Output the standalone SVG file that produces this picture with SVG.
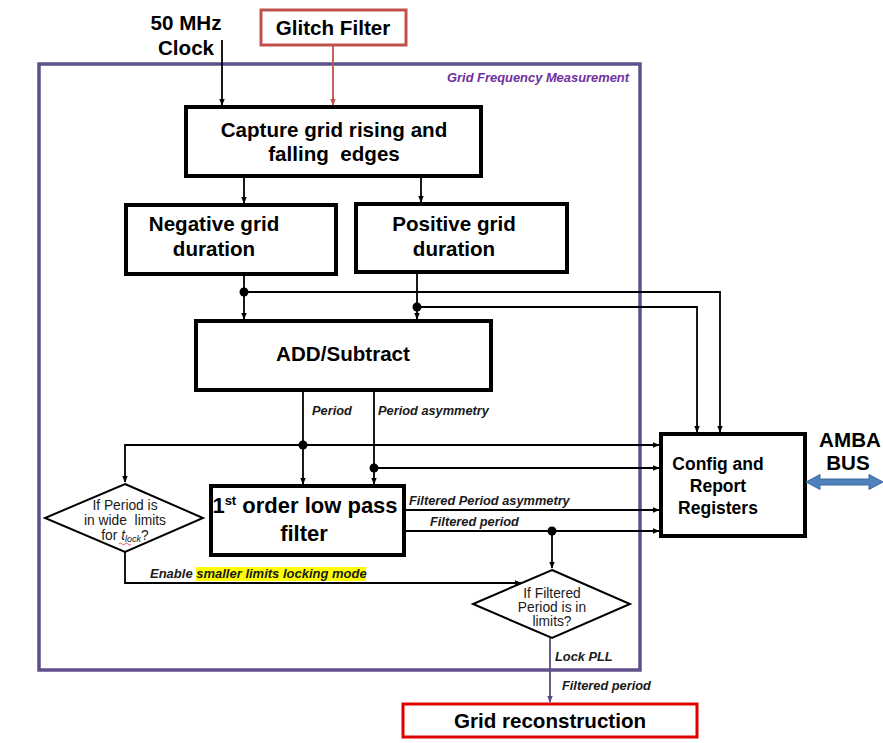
<svg xmlns="http://www.w3.org/2000/svg" width="883" height="743" viewBox="0 0 883 743">
  <style>
    .box { fill: #ffffff; stroke: #000000; stroke-width: 4; }
    .dia { fill: #ffffff; stroke: #000000; stroke-width: 2; }
    .wire { fill: none; stroke: #000000; stroke-width: 1.8; }
    .t-big { font-family: "Liberation Sans", Arial, sans-serif; font-weight: bold; font-size: 20.6px; fill: #000000; text-anchor: middle; }
    .t-mid { font-family: "Liberation Sans", Arial, sans-serif; font-weight: bold; font-size: 17.5px; fill: #000000; text-anchor: middle; }
    .t-dia { font-family: "Liberation Sans", Arial, sans-serif; font-size: 13.8px; fill: #1a1a1a; text-anchor: middle; }
    .t-lbl { font-family: "Liberation Sans", Arial, sans-serif; font-weight: bold; font-style: italic; font-size: 12.8px; fill: #1a1a1a; }
  </style>
  <defs>
    <marker id="arr" viewBox="0 0 10 10" refX="9" refY="5" markerWidth="4" markerHeight="4" orient="auto" markerUnits="strokeWidth">
      <path d="M0,1 L10,5 L0,9 Z" fill="#000000"/>
    </marker>
    <marker id="arr-red" viewBox="0 0 10 10" refX="9" refY="5" markerWidth="4" markerHeight="4" orient="auto" markerUnits="strokeWidth">
      <path d="M0,1 L10,5 L0,9 Z" fill="#c0504d"/>
    </marker>
    <marker id="arr-pur" viewBox="0 0 10 10" refX="9" refY="5" markerWidth="4" markerHeight="4" orient="auto" markerUnits="strokeWidth">
      <path d="M0,1 L10,5 L0,9 Z" fill="#5b4a86"/>
    </marker>
  </defs>

  <rect width="883" height="743" fill="#ffffff"/>

  <!-- Measurement block boundary -->
  <g id="grid-frequency-measurement">
    <rect x="39" y="64" width="601" height="606" fill="none" stroke="#5f4f8a" stroke-width="3.5"/>
    <text x="629" y="82" text-anchor="end" font-family="Liberation Sans, Arial, sans-serif" font-weight="bold" font-style="italic" font-size="12.9" fill="#7030a0">Grid Frequency Measurement</text>
  </g>

  <!-- External inputs -->
  <g id="clock-label">
    <text class="t-big" x="186" y="30">50 MHz</text>
    <text class="t-big" x="186" y="55">Clock</text>
  </g>
  <g id="glitch-filter">
    <rect x="261" y="10" width="145" height="35" fill="#ffffff" stroke="#c0504d" stroke-width="3"/>
    <text class="t-big" x="333" y="35">Glitch Filter</text>
  </g>

  <!-- Processing blocks -->
  <g id="capture-edges">
    <rect class="box" x="186" y="107" width="295" height="69"/>
    <text class="t-big" x="334" y="137">Capture grid rising and</text>
    <text class="t-big" x="334" y="161" style="white-space:pre">falling  edges</text>
  </g>
  <g id="negative-duration">
    <rect class="box" x="126" y="205" width="210" height="69"/>
    <text class="t-big" x="214" y="231">Negative grid</text>
    <text class="t-big" x="214" y="256">duration</text>
  </g>
  <g id="positive-duration">
    <rect class="box" x="356" y="204" width="211" height="68"/>
    <text class="t-big" x="454" y="231">Positive grid</text>
    <text class="t-big" x="454" y="256">duration</text>
  </g>
  <g id="add-subtract">
    <rect class="box" x="196" y="321" width="295" height="69"/>
    <text class="t-big" x="343" y="361">ADD/Subtract</text>
  </g>
  <g id="low-pass-filter">
    <rect class="box" x="211" y="486" width="193" height="69"/>
    <text class="t-big" x="305" y="513" style="font-size:22px">1<tspan font-size="13" dy="-8">st</tspan><tspan dy="8"> order low pass</tspan></text>
    <text class="t-big" x="304" y="541" style="font-size:22px">filter</text>
  </g>
  <g id="config-registers">
    <rect class="box" x="661" y="434" width="144" height="102"/>
    <text class="t-mid" x="718" y="470">Config and</text>
    <text class="t-mid" x="718" y="492">Report</text>
    <text class="t-mid" x="718" y="514">Registers</text>
  </g>
  <g id="amba-bus">
    <text class="t-big" x="850" y="447">AMBA</text>
    <text class="t-big" x="848" y="470">BUS</text>
    <path d="M806,482 L820,474.5 L820,479 L869,479 L869,474.5 L883,482 L869,489.5 L869,485 L820,485 L820,489.5 Z" fill="#4f81bd" stroke="#3a6aa0" stroke-width="1"/>
  </g>

  <!-- Decisions -->
  <g id="wide-limits-check">
    <polygon class="dia" points="125,484 203,518 125,552 45,518"/>
    <text class="t-dia" x="125" y="510">If Period is</text>
    <text class="t-dia" x="125" y="525" style="white-space:pre">in wide  limits</text>
    <text class="t-dia" x="125" y="540">for <tspan font-style="italic">t</tspan><tspan font-style="italic" font-size="9" dy="2">lock</tspan><tspan dy="-2">?</tspan></text>
    <path d="M119,544 q1.5,-2 3,0 t3,0 t3,0 t3,0" fill="none" stroke="#e03030" stroke-width="0.8"/>
  </g>
  <g id="filtered-limits-check">
    <polygon class="dia" points="552,570 630,604 552,638 473,604"/>
    <text class="t-dia" x="552" y="598">If Filtered</text>
    <text class="t-dia" x="552" y="612">Period is in</text>
    <text class="t-dia" x="552" y="626">limits?</text>
  </g>

  <g id="grid-reconstruction">
    <rect x="403" y="704" width="294" height="33" fill="#ffffff" stroke="#e00000" stroke-width="3"/>
    <text class="t-big" x="550" y="728">Grid reconstruction</text>
  </g>

  <!-- Connectors -->
  <g id="connectors">
    <path class="wire" d="M222,40 V105" marker-end="url(#arr)"/>
    <path class="wire" d="M333,46 V105" style="stroke:#c0504d" marker-end="url(#arr-red)"/>
    <path class="wire" d="M244,177 V203" marker-end="url(#arr)"/>
    <path class="wire" d="M421,177 V202" marker-end="url(#arr)"/>

    <path class="wire" d="M244,275 V319" marker-end="url(#arr)"/>
    <path class="wire" d="M244,292 H720 V432" marker-end="url(#arr)"/>
    <circle cx="244" cy="292" r="4.5" fill="#000000"/>
    <path class="wire" d="M417,273 V319" marker-end="url(#arr)"/>
    <path class="wire" d="M417,307 H697 V432" marker-end="url(#arr)"/>
    <circle cx="417" cy="307" r="4.5" fill="#000000"/>

    <path class="wire" d="M303,391 V484" marker-end="url(#arr)"/>
    <path class="wire" d="M303,445 H659" marker-end="url(#arr)"/>
    <path class="wire" d="M303,445 H125 V482" marker-end="url(#arr)"/>
    <circle cx="303" cy="445" r="4.5" fill="#000000"/>
    <path class="wire" d="M374,391 V484" marker-end="url(#arr)"/>
    <path class="wire" d="M374,468 H659" marker-end="url(#arr)"/>
    <circle cx="374" cy="468" r="4.5" fill="#000000"/>

    <path class="wire" d="M405,510 H659" marker-end="url(#arr)"/>
    <path class="wire" d="M405,531 H659" marker-end="url(#arr)"/>
    <path class="wire" d="M552,531 V568" marker-end="url(#arr)"/>
    <circle cx="552" cy="531" r="4.5" fill="#000000"/>

    <path class="wire" d="M125,552 V583 H521" marker-end="url(#arr)"/>
    <path class="wire" d="M550,638 V702" style="stroke:#5b4a86" marker-end="url(#arr-pur)"/>
  </g>

  <!-- Connector labels -->
  <g id="connector-labels">
    <text class="t-lbl" x="312" y="415">Period</text>
    <text class="t-lbl" x="378" y="415">Period asymmetry</text>
    <text class="t-lbl" x="409" y="505">Filtered Period asymmetry</text>
    <text class="t-lbl" x="430" y="526">Filtered period</text>
    <rect x="196" y="567" width="170" height="14" fill="#ffff00"/>
    <text class="t-lbl" x="150" y="578" style="font-size:13px">Enable smaller limits locking mode</text>
    <text class="t-lbl" x="555" y="661">Lock PLL</text>
    <text class="t-lbl" x="562" y="690">Filtered period</text>
  </g>
</svg>
